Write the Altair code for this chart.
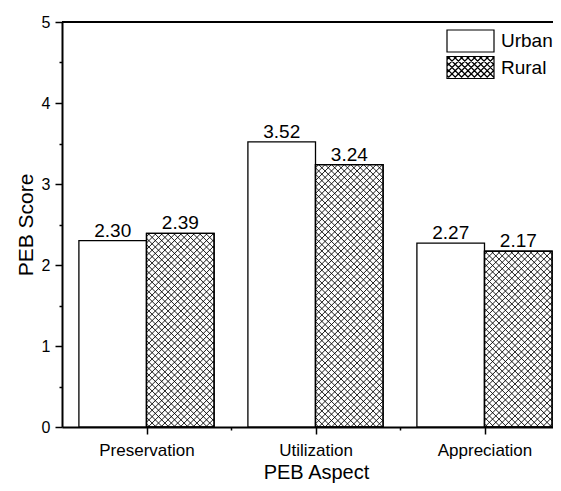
import altair as alt
import pandas as pd
import numpy as np

# ---------------- data ----------------
aspects = ["Preservation", "Utilization", "Appreciation"]
groups = ["Urban", "Rural"]
urban = [2.30, 3.52, 2.27]
rural = [2.39, 3.24, 2.17]

# ---------------- layout / style ----------------
FONT = "Liberation Sans"
W, H = 491, 405
PAD = {"left": 54, "top": 14, "right": 0, "bottom": 56}
X_MIN = 0.5
PX_PER_UNIT = 169.0
X_MAX = X_MIN + W / PX_PER_UNIT
Y_MAX = 5
BAR_W = 0.4
SPACING = 6.4  # hatch spacing in px

rows = []
for i, a in enumerate(aspects):
    c = i + 1
    for g, vals, x0, x1 in [("Urban", urban, c - BAR_W, c), ("Rural", rural, c, c + BAR_W)]:
        rows.append(dict(aspect=a, group=g, value=vals[i], x0=x0, x1=x1,
                         xc=(x0 + x1) / 2, ymid=vals[i] / 2))
df = pd.DataFrame(rows)

sx = PX_PER_UNIT
sy = H / Y_MAX


def hatch(w, h, step):
    segs = []
    # direction (1,1): v = u - c
    for c in np.arange(-h + step / 2, w, step):
        u1, u2 = max(0.0, c), min(w, h + c)
        if u2 > u1:
            segs.append((u1, u1 - c, u2, u2 - c))
    # direction (1,-1): v = c - u
    for c in np.arange(step / 2, w + h, step):
        u1, u2 = max(0.0, c - h), min(w, c)
        if u2 > u1:
            segs.append((u1, c - u1, u2, c - u2))
    return segs


hrows = []
for r in rows:
    if r["group"] != "Rural":
        continue
    wpx = (r["x1"] - r["x0"]) * sx
    hpx = r["value"] * sy
    for (u1, v1, u2, v2) in hatch(wpx, hpx, SPACING):
        hrows.append(dict(hx=r["x0"] + u1 / sx, hy=v1 / sy,
                          hx2=r["x0"] + u2 / sx, hy2=v2 / sy))
hdf = pd.DataFrame(hrows)

# legend symbol paths (unit square scaled by sqrt(size))
SW = 47.0
HH = 22.0 / SW
rect_path = f"M-1,-{HH:.3f}L1,-{HH:.3f}L1,{HH:.3f}L-1,{HH:.3f}Z"
lw, lh = 2.0, 2 * HH
lstep = SPACING / (SW / 2)
lp = []
for (u1, v1, u2, v2) in hatch(lw, lh, lstep):
    lp.append(f"M{u1-1:.3f},{v1-HH:.3f}L{u2-1:.3f},{v2-HH:.3f}")
hatch_path = rect_path + "".join(lp)

xscale = alt.Scale(domain=[X_MIN, X_MAX], nice=False, zero=False)
yscale = alt.Scale(domain=[0, Y_MAX], nice=False)

label_expr = " : ".join(
    [f"datum.value == {i+1} ? '{a}'" for i, a in enumerate(aspects)]) + " : ''"

xaxis = alt.Axis(
    values=[1, 1.5, 2, 2.5, 3], labelExpr=label_expr, grid=False,
    title="PEB Aspect", titleX=254, titleY=51, titleBaseline="alphabetic",
    titleFontSize=20, titleFont=FONT, titleFontWeight="normal", titleColor="black",
    labelFontSize=17, labelFont=FONT, labelColor="black", labelPadding=8,
    tickSize={"condition": {"test": "datum.value % 1 != 0", "value": 3}, "value": 7},
    tickColor="black", tickWidth=1.5, domainColor="black", domainWidth=2,
)
yaxis = alt.Axis(
    values=[v / 2 for v in range(0, 11)], format=".0f",
    labelExpr="datum.value % 1 == 0 ? datum.label : ''", grid=False,
    title="PEB Score", titleX=-30, titleY=H / 2, titleBaseline="alphabetic",
    titleFontSize=21, titleFont=FONT, titleFontWeight="normal", titleColor="black",
    labelFontSize=16, labelFont=FONT, labelColor="black", labelPadding=5,
    tickSize={"condition": {"test": "datum.value % 1 != 0", "value": 3}, "value": 7},
    tickColor="black", tickWidth=1.5, domainColor="black", domainWidth=2,
)

base = alt.Chart(df)

legend_src = base.mark_point(filled=False, color="black", stroke="black", strokeWidth=1.2,
                             size=SW * SW, opacity=1).encode(
    x=alt.X("xc:Q", scale=xscale, axis=xaxis),
    y=alt.Y("ymid:Q", scale=yscale, axis=yaxis),
    shape=alt.Shape("group:N", scale=alt.Scale(domain=groups, range=[rect_path, hatch_path]),
                    legend=alt.Legend(title=None, orient="none", legendX=384, legendY=7,
                                      symbolSize=SW * SW, symbolFillColor="white",
                                      symbolStrokeColor="black", symbolStrokeWidth=1.2,
                                      symbolOpacity=1, clipHeight=24,
                                      labelFontSize=19, labelFont=FONT, labelColor="black",
                                      labelOffset=6, rowPadding=2.5, padding=0)),
)

bars = base.mark_bar(fill="white", stroke="black", strokeWidth=1.3).encode(
    x=alt.X("x0:Q", scale=xscale, axis=xaxis),
    x2="x1:Q",
    y=alt.Y("value:Q", scale=yscale, axis=yaxis),
    y2=alt.datum(0),
)

hatch_layer = alt.Chart(hdf).mark_rule(color="#000000", strokeWidth=0.9).encode(
    x=alt.X("hx:Q", scale=xscale, axis=xaxis),
    y=alt.Y("hy:Q", scale=yscale, axis=yaxis),
    x2="hx2:Q",
    y2="hy2:Q",
)

outline = base.transform_filter("datum.group == 'Rural'").mark_bar(
    fillOpacity=0, stroke="black", strokeWidth=1.3).encode(
    x=alt.X("x0:Q", scale=xscale, axis=xaxis),
    x2="x1:Q",
    y=alt.Y("value:Q", scale=yscale, axis=yaxis),
    y2=alt.datum(0),
)

labels = base.mark_text(dy=-4, baseline="alphabetic", fontSize=19, font=FONT,
                        color="black").encode(
    x=alt.X("xc:Q", scale=xscale, axis=xaxis),
    y=alt.Y("value:Q", scale=yscale, axis=yaxis),
    text=alt.Text("value:Q", format=".2f"),
)

top_line = alt.Chart(pd.DataFrame({"top": [Y_MAX]})).mark_rule(
    color="black", strokeWidth=2).encode(
    y=alt.Y("top:Q", scale=yscale, axis=yaxis))

chart = alt.layer(legend_src, bars, hatch_layer, outline, labels, top_line).properties(
    width=W, height=H,
    padding=PAD,
    autosize=alt.AutoSizeParams(type="none"),
    background="white",
).configure_view(stroke=None).configure(font=FONT)

chart.save("out.html", embed_options={"renderer": "svg", "actions": False})
